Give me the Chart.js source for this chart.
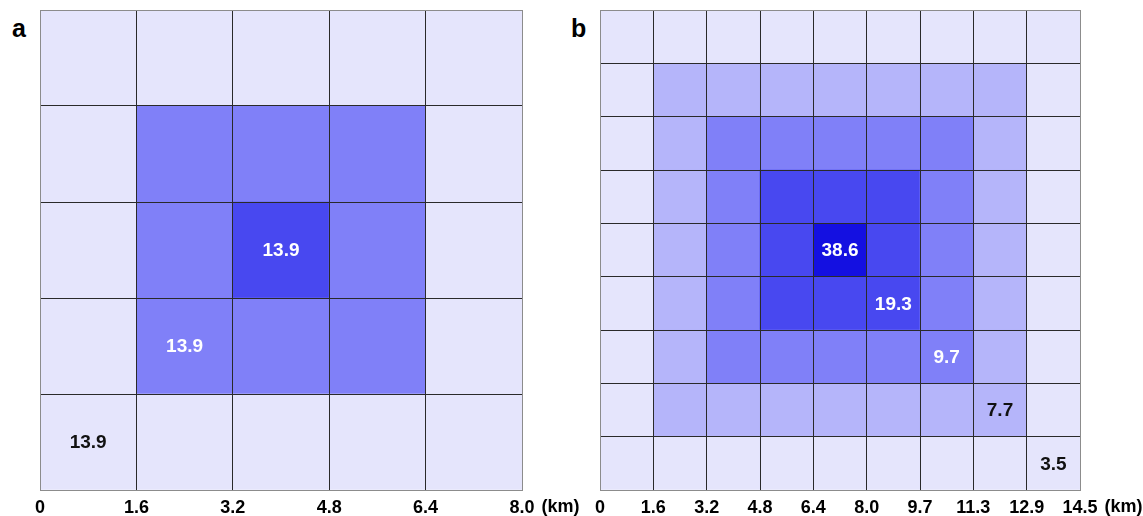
<!DOCTYPE html>
<html>
<head>
<meta charset="utf-8">
<script src="https://cdn.jsdelivr.net/npm/chart.js@4.4.0/dist/chart.umd.min.js"></script>
<style>
    body { margin: 0; background: #fff; width: 1143px; height: 516px; position: relative; overflow: hidden; font-family: "Liberation Sans", Arial, sans-serif; }
    canvas { position: absolute; top: 0; }
    #chartA { left: 0; }
    #chartB { left: 560px; }
    .tag { position: absolute; font-weight: bold; font-size: 25px; line-height: 1; }
</style>
</head>
<body>
<div class="tag" style="left:12px;top:16px">a</div>
<div class="tag" style="left:571px;top:16px">b</div>
<canvas id="chartA" width="600" height="516"></canvas>
<canvas id="chartB" width="583" height="516"></canvas>
<script>
// colour steps, lightest to darkest
const shades = ['#E5E5FC', '#B5B5FA', '#8080F8', '#4848F0', '#1410E1'];

// panel a: 5x5 cells, row 0 at the top, values are shade levels
const levelsA = [
    [0, 0, 0, 0, 0],
    [0, 2, 2, 2, 0],
    [0, 2, 3, 2, 0],
    [0, 2, 2, 2, 0],
    [0, 0, 0, 0, 0]
];
const xTicksA = ['0', '1.6', '3.2', '4.8', '6.4', '8.0'];
const labelRowsA = [2, 3, 4];
const labelColsA = [2, 1, 0];
const labelTextA = ['13.9', '13.9', '13.9'];

// panel b: 9x9 cells
const levelsB = [
    [0, 0, 0, 0, 0, 0, 0, 0, 0],
    [0, 1, 1, 1, 1, 1, 1, 1, 0],
    [0, 1, 2, 2, 2, 2, 2, 1, 0],
    [0, 1, 2, 3, 3, 3, 2, 1, 0],
    [0, 1, 2, 3, 4, 3, 2, 1, 0],
    [0, 1, 2, 3, 3, 3, 2, 1, 0],
    [0, 1, 2, 2, 2, 2, 2, 1, 0],
    [0, 1, 1, 1, 1, 1, 1, 1, 0],
    [0, 0, 0, 0, 0, 0, 0, 0, 0]
];
const xTicksB = ['0', '1.6', '3.2', '4.8', '6.4', '8.0', '9.7', '11.3', '12.9', '14.5'];
const labelRowsB = [4, 5, 6, 7, 8];
const labelColsB = [4, 5, 6, 7, 8];
const labelTextB = ['38.6', '19.3', '9.7', '7.7', '3.5'];

const unitText = '(km)';
const font = '"Liberation Sans", Arial, sans-serif';

function makeGrid(id, levels, xTicks, rows, cols, texts, padRight) {
    const n = levels.length;
    const datasets = [];
    // stack rows from the bottom up
    for (let k = 0; k < n; k++) {
        const row = levels[n - 1 - k];
        datasets.push({
            data: row.map((lv, c) => ({ x: c + 0.5, y: 1 })),
            backgroundColor: row.map(lv => shades[lv]),
            borderWidth: 0,
            barPercentage: 1,
            categoryPercentage: 1
        });
    }

    const lineColor = ctx => (ctx.index === 0 || ctx.index === n) ? '#8c8c8c' : '#2a2a2a';

    const cellText = {
        id: 'cellText',
        afterDraw(chart) {
            const c = chart.ctx;
            const xs = chart.scales.x, ys = chart.scales.y;
            c.save();
            c.font = 'bold 19px ' + font;
            c.textAlign = 'center';
            c.textBaseline = 'middle';
            texts.forEach((t, i) => {
                const r = rows[i], col = cols[i];
                c.fillStyle = levels[r][col] >= 2 ? '#ffffff' : '#111111';
                c.fillText(t, xs.getPixelForValue(col + 0.5), ys.getPixelForValue(n - r - 0.5) + 1);
            });
            // unit after the last tick label
            c.font = 'bold 18px ' + font;
            const last = xTicks[xTicks.length - 1];
            const lw = c.measureText(last).width;
            c.textAlign = 'left';
            c.fillStyle = '#000';
            c.fillText(unitText, xs.getPixelForValue(n) + lw / 2 + 7, 507);
            c.restore();
        }
    };

    new Chart(document.getElementById(id), {
        type: 'bar',
        data: { datasets: datasets },
        options: {
            responsive: false,
            animation: false,
            layout: { padding: { left: 40, right: padRight, top: 10, bottom: 0 } },
            plugins: { legend: { display: false }, tooltip: { enabled: false } },
            scales: {
                x: {
                    type: 'linear',
                    stacked: true,
                    offset: false,
                    min: 0,
                    max: n,
                    afterFit: s => { s.height = 26; },
                    grid: { offset: false, color: lineColor, lineWidth: 1, drawTicks: false, z: 1 },
                    border: { color: '#8c8c8c', z: 1 },
                    ticks: {
                        stepSize: 1,
                        padding: 7,
                        maxRotation: 0,
                        autoSkip: false,
                        color: '#000',
                        font: { family: font, size: 18, weight: 'bold' },
                        callback: (v, i) => xTicks[i]
                    }
                },
                y: {
                    type: 'linear',
                    stacked: true,
                    min: 0,
                    max: n,
                    afterFit: s => { s.width = 0; },
                    grid: { color: lineColor, lineWidth: 1, drawTicks: false, z: 1 },
                    border: { color: '#8c8c8c', z: 1 },
                    ticks: { stepSize: 1, display: false }
                }
            }
        },
        plugins: [cellText]
    });
}

makeGrid('chartA', levelsA, xTicksA, labelRowsA, labelColsA, labelTextA, 78);
makeGrid('chartB', levelsB, xTicksB, labelRowsB, labelColsB, labelTextB, 63);
</script>
</body>
</html>
